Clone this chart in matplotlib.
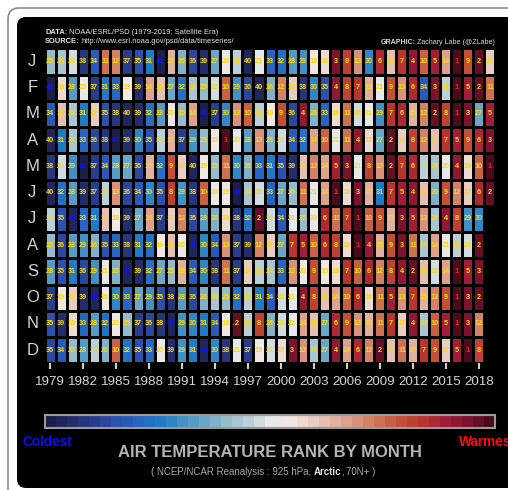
import numpy as np
import matplotlib
matplotlib.use("Agg")
import matplotlib.pyplot as plt
from matplotlib.colors import LinearSegmentedColormap, BoundaryNorm
from matplotlib.patches import FancyBboxPatch
from matplotlib.transforms import IdentityTransform

# ---------------------------------------------------------------- data
years = list(range(1979, 2020))
month_labels = ['J', 'F', 'M', 'A', 'M', 'J', 'J', 'A', 'S', 'O', 'N', 'D']
year_ticks = list(range(1979, 2019, 3))

# rank of each year's monthly 925 hPa Arctic air temperature (1 = warmest)
rank_jan = [25, 24, 22, 38, 34, 11, 12, 37, 35, 31, 41, 15, 26, 36, 39, 27, 20, 23, 40, 21, 33,
            32, 28, 29, 19, 18, 3, 8, 13, 30, 6, 16, 7, 4, 10, 5, 14, 1, 9, 2, 17]
rank_feb = [41, 18, 28, 20, 37, 31, 33, 19, 39, 14, 16, 27, 32, 24, 25, 22, 10, 29, 36, 40, 26,
            12, 17, 38, 30, 35, 4, 8, 7, 15, 21, 9, 13, 6, 34, 3, 23, 1, 5, 2, 11]
rank_mar = [34, 16, 24, 31, 17, 35, 38, 40, 39, 32, 28, 20, 25, 14, 41, 37, 30, 13, 10, 23, 19,
            9, 36, 4, 26, 33, 18, 11, 22, 21, 29, 7, 6, 15, 12, 2, 8, 1, 3, 27, 5]
rank_apr = [40, 31, 24, 33, 36, 38, 41, 39, 30, 35, 23, 15, 37, 29, 25, 19, 1, 20, 28, 13, 26,
            22, 34, 32, 14, 10, 21, 11, 4, 18, 27, 2, 17, 8, 12, 16, 7, 5, 9, 6, 3]
rank_may = [38, 22, 29, 41, 37, 34, 28, 27, 36, 15, 32, 9, 17, 40, 19, 25, 11, 30, 26, 33, 31,
            35, 39, 16, 12, 14, 5, 3, 21, 8, 13, 2, 7, 6, 23, 24, 20, 4, 18, 10, 1]
rank_jun = [40, 32, 28, 39, 37, 23, 13, 36, 34, 30, 35, 8, 29, 38, 10, 20, 19, 41, 24, 22, 33,
            27, 25, 11, 21, 14, 1, 18, 3, 15, 31, 7, 5, 4, 16, 26, 9, 12, 17, 6, 2]
rank_jul = [23, 35, 40, 33, 31, 16, 19, 39, 27, 14, 37, 17, 12, 36, 28, 26, 18, 38, 32, 2, 22,
            34, 21, 25, 20, 6, 11, 7, 1, 10, 9, 15, 3, 5, 13, 24, 4, 8, 29, 30]
rank_aug = [25, 36, 28, 29, 26, 35, 33, 38, 31, 32, 19, 16, 20, 40, 30, 34, 13, 37, 39, 12, 17,
            27, 7, 5, 10, 6, 8, 18, 1, 4, 15, 9, 3, 11, 24, 14, 21, 23, 22, 2]
rank_sep = [28, 35, 31, 36, 29, 21, 26, 40, 39, 32, 27, 25, 15, 34, 30, 38, 11, 37, 17, 23, 24,
            33, 13, 20, 9, 19, 18, 7, 10, 6, 12, 8, 4, 2, 16, 22, 14, 1, 5, 3]
rank_oct = [37, 19, 17, 39, 40, 20, 30, 33, 27, 29, 35, 38, 28, 36, 26, 24, 25, 32, 23, 31, 34,
            22, 21, 4, 8, 16, 14, 10, 6, 18, 11, 5, 13, 7, 15, 12, 9, 1, 3, 2]
rank_nov = [35, 39, 18, 33, 28, 32, 20, 25, 37, 36, 38, 40, 29, 30, 31, 34, 19, 2, 23, 8, 26,
            22, 21, 14, 16, 27, 6, 9, 13, 15, 11, 7, 17, 4, 24, 10, 5, 1, 3, 12]
rank_dec = [36, 34, 25, 28, 23, 26, 10, 32, 35, 33, 20, 39, 29, 31, 40, 30, 38, 21, 37, 19, 22,
            18, 3, 13, 24, 27, 4, 14, 6, 12, 2, 16, 11, 15, 7, 9, 17, 5, 1, 8]

monthly_ranks = [rank_jan, rank_feb, rank_mar, rank_apr, rank_may, rank_jun,
                 rank_jul, rank_aug, rank_sep, rank_oct, rank_nov, rank_dec]

# ---------------------------------------------------------------- styling
W, H = 508, 490
plt.rcParams['font.family'] = ['Liberation Sans', 'DejaVu Sans']

# diverging palette, coldest -> warmest
palette = ['#1c1f4a', '#232d6c', '#293c8c', '#2d50ae', '#2665c2', '#1f7bc6', '#4290c4',
           '#6aa6c6', '#96bccb', '#bccfd6', '#e6e8ea', '#f0e6e2', '#e9cdc3', '#e1b09f',
           '#d8917b', '#ce7052', '#c44f37', '#b7342f', '#a11d38', '#7c1230', '#4a0c1c']
n_rank = len(years)
cmap = LinearSegmentedColormap.from_list('rank', palette).reversed().resampled(n_rank)
norm = BoundaryNorm(np.arange(0.5, n_rank + 1.5, 1.0), cmap.N)

fig = plt.figure(figsize=(W / 100, H / 100), dpi=100)
fig.patch.set_facecolor('white')

px = IdentityTransform()
# outer frame and black panel, kept behind the axes
fig.add_artist(FancyBboxPatch((8, -30), 540, 512, boxstyle='round,pad=0,rounding_size=11',
                              transform=px, fill=False, edgecolor='#8c8c8c', lw=1.2,
                              zorder=-20))
fig.add_artist(FancyBboxPatch((17, 2), 540, 471, boxstyle='round,pad=0,rounding_size=9',
                              transform=px, facecolor='black', edgecolor='none', zorder=-10))


def fbox(x0, y0, x1, y1):
    return [x0 / W, 1 - y1 / H, (x1 - x0) / W, (y1 - y0) / H]


# ---------------------------------------------------------------- heatmap
Z = np.full((12, n_rank), np.nan)
for i, r in enumerate(monthly_ranks):
    Z[i, :len(r)] = r
Zm = np.ma.masked_invalid(Z)

ax = fig.add_axes(fbox(44.5, 48.3, 495.5, 363.3))
ax.set_facecolor('black')
mesh = ax.pcolormesh(np.arange(n_rank + 1), np.arange(13), Zm, cmap=cmap, norm=norm,
                     edgecolors='black', linewidth=0.9)
ax.set_xlim(0, n_rank)
ax.set_ylim(12, 0)
for s in ax.spines.values():
    s.set_visible(False)

for i, r in enumerate(monthly_ranks):
    coldest = max(r)
    for j, v in enumerate(r):
        if v == 1:
            c = '#ff1a1a'
        elif v == coldest:
            c = '#1010ff'
        else:
            c = '#f7d914'
        ax.text(j + 0.5, i + 0.5, str(v), ha='center', va='center', fontsize=5.2,
                fontweight='bold', color=c)

for i, m in enumerate(month_labels):
    ax.text(-1.1, i + 0.5, m, ha='center', va='center', fontsize=12, color='#d4d4d4',
            clip_on=False)

ax.set_yticks([])
ax.set_xticks([years.index(y) + 0.5 for y in year_ticks])
ax.set_xticklabels([str(y) for y in year_ticks])
ax.tick_params(axis='x', length=4, width=1.5, color='#cfcfcf', pad=5,
               labelsize=9.6, labelcolor='#d4d4d4')

# ---------------------------------------------------------------- colour bar
cax = fig.add_axes(fbox(45, 415, 495, 428))
cb = fig.colorbar(mesh, cax=cax, orientation='horizontal')
cax.invert_xaxis()
cb.set_ticks([])
cb.outline.set_edgecolor('#9a9a9a')
cb.outline.set_linewidth(1.5)

fig.text(47.5 / W, 1 - 442 / H, 'Coldest', ha='center', va='center', fontsize=9.8,
         fontweight='bold', color='#0a0aff')
fig.text(459 / W, 1 - 442 / H, 'Warmest', ha='left', va='center', fontsize=9.8,
         fontweight='bold', color='#ff0a0a')

# ---------------------------------------------------------------- titles
fig.text(270 / W, 1 - 452 / H, 'AIR TEMPERATURE RANK BY MONTH', ha='center', va='center',
         fontsize=12, fontweight='bold', color='#b4b4b4')

renderer = fig.canvas.get_renderer()


def rich_line(parts, x, y, ha='left', size=8):
    """Draw a row of differently styled text pieces; parts = (text, weight, colour, gap_after)."""
    items = []
    for s, weight, color, gap in parts:
        t = fig.text(0, 0, s, transform=px, ha='left', va='center', fontsize=size,
                     fontweight=weight, color=color)
        items.append((t, t.get_window_extent(renderer).width, gap))
    total = sum(w + g for _, w, g in items) - items[-1][2]
    cur = {'left': x, 'center': x - total / 2, 'right': x - total}[ha]
    for t, w, g in items:
        t.set_position((cur, H - y))
        cur += w + g


sub_c = '#a8a8a8'
rich_line([('( NCEP/NCAR Reanalysis : 925 hPa,', 'normal', sub_c, 2.2),
           ('Arctic', 'bold', '#e2e2e2', 0),
           (',', 'normal', sub_c, 2.2),
           ('70N+ )', 'normal', sub_c, 0)], 263, 472, ha='center', size=7)

hdr_c = '#e4e4e4'
rich_line([('DATA:', 'bold', hdr_c, 1.5),
           ('NOAA/ESRL/PSD (1979-2019; Satellite Era)', 'normal', hdr_c, 0)],
          45, 32.5, size=5.4)
rich_line([('SOURCE:', 'bold', hdr_c, 1.5),
           ('http://www.esrl.noaa.gov/psd/data/timeseries/', 'normal', hdr_c, 0)],
          45, 41.5, size=5.4)
rich_line([('GRAPHIC:', 'bold', '#d8d8d8', 1.5),
           ('Zachary Labe (@ZLabe)', 'normal', '#d8d8d8', 0)],
          495, 42.5, ha='right', size=5.1)

fig.savefig('out.png', dpi=100, facecolor=fig.get_facecolor())
